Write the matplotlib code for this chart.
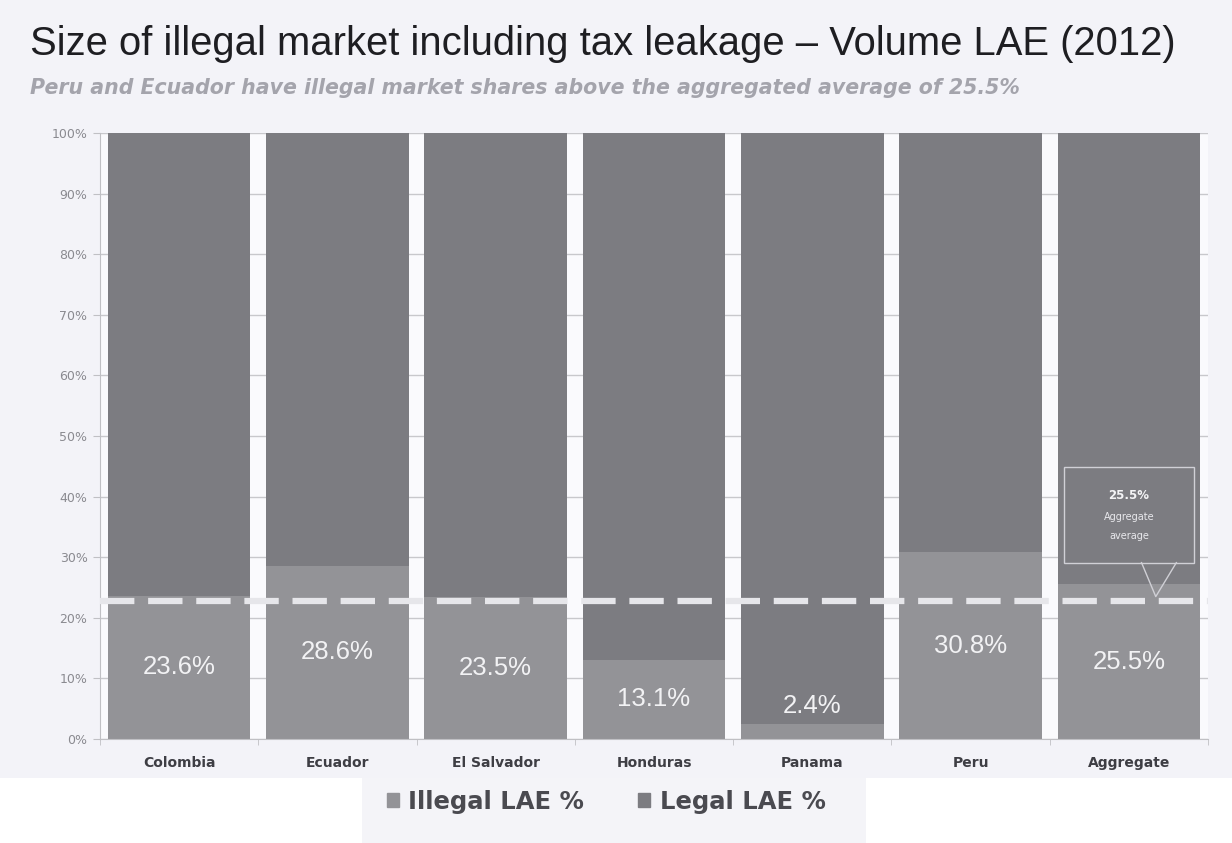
import matplotlib
matplotlib.use("Agg")
import matplotlib.pyplot as plt
from matplotlib.patches import Rectangle
from matplotlib.lines import Line2D
import numpy as np

countries = ["Colombia", "Ecuador", "El Salvador", "Honduras", "Panama", "Peru", "Aggregate"]
illegal = [23.6, 28.6, 23.5, 13.1, 2.4, 30.8, 25.5]
legal = [100 - v for v in illegal]
value_labels = ["23.6%", "28.6%", "23.5%", "13.1%", "2.4%", "30.8%", "25.5%"]
avg_line = 22.8
avg_text = "25.5%"
yticks = list(range(0, 101, 10))
ytick_labels = [f"{t}%" for t in yticks]

BG = "#f3f3f8"
C_ILLEGAL = "#939397"
C_LEGAL = "#7c7c81"

fig = plt.figure(figsize=(12.32, 8.43), dpi=100)
fig.patch.set_facecolor(BG)

# white strip at bottom outside legend area
fig.patches.append(Rectangle((0, 0), 1, 1 - 778 / 843, transform=fig.transFigure,
                             facecolor="white", edgecolor="none", zorder=0))
fig.patches.append(Rectangle((362 / 1232, 0), (866 - 362) / 1232, 1 - 778 / 843,
                             transform=fig.transFigure, facecolor="#f4f4f8",
                             edgecolor="none", zorder=0))

ax = fig.add_axes([100 / 1232, 1 - 739 / 843, (1208 - 100) / 1232, (739 - 133) / 843])
ax.set_facecolor("#fafafd")

x = np.arange(len(countries))
ax.bar(x, illegal, width=0.9, color=C_ILLEGAL, zorder=2, label="Illegal LAE %")
ax.bar(x, legal, width=0.9, bottom=illegal, color=C_LEGAL, zorder=2, label="Legal LAE %")

ax.set_xlim(-0.5, len(countries) - 0.5)
ax.set_ylim(0, 100)
ax.set_yticks(yticks)
ax.set_yticklabels(ytick_labels)
ax.yaxis.grid(True, color="#c8c8cc", linewidth=1, zorder=1)
ax.set_axisbelow(True)

for s in ["top", "right"]:
    ax.spines[s].set_visible(False)
ax.spines["left"].set_color("#c0c0c4")
ax.spines["bottom"].set_color("#c0c0c4")

ax.tick_params(axis="y", length=5, color="#c0c0c4", labelcolor="#8a8a90",
               labelsize=9, pad=4)
for lab in ax.get_yticklabels():
    lab.set_family("DejaVu Sans")
ax.set_xticks(x)
ax.set_xticklabels(countries)
ax.tick_params(axis="x", length=0, pad=12, labelsize=10, labelcolor="#3e3e44")
for lab in ax.get_xticklabels():
    lab.set_fontweight("bold")
    lab.set_family("DejaVu Sans")
ax.set_xticks(np.arange(-0.5, len(countries), 1), minor=True)
ax.tick_params(axis="x", which="minor", length=4, color="#c0c0c4")

# value labels
for i, (v, t) in enumerate(zip(illegal, value_labels)):
    ypos = v / 2 if v > 8 else 5.5
    ax.text(i, ypos, t, ha="center", va="center", color="#f2f2f4",
            fontsize=18.5, family="Liberation Sans", zorder=5)

# dashed average line
ax.axhline(avg_line, color="#e6e6ea", linewidth=4.5, linestyle=(0, (5.5, 2.2)),
           zorder=4)

# callout box
i_agg = len(countries) - 1
box_l, box_r = i_agg - 0.41, i_agg + 0.41
box_b, box_t = 29.1, 44.9
ax.add_patch(Rectangle((box_l, box_b), box_r - box_l, box_t - box_b,
                       facecolor="none", edgecolor="#d0d0d6", linewidth=1, zorder=6))
tip_x = i_agg + 0.17
ax.add_line(Line2D([i_agg + 0.08, tip_x, i_agg + 0.30], [box_b, avg_line + 0.7, box_b],
                   color="#d0d0d6", linewidth=1, zorder=6))
ax.text(i_agg, 40.2, avg_text, ha="center", va="center", color="#f4f4f6",
        fontsize=8.5, fontweight="bold", zorder=7)
ax.text(i_agg, 36.7, "Aggregate", ha="center", va="center", color="#e8e8ec",
        fontsize=7, zorder=7)
ax.text(i_agg, 33.5, "average", ha="center", va="center", color="#e8e8ec",
        fontsize=7, zorder=7)

# titles
fig.text(30 / 1232, 1 - 44 / 843, "Size of illegal market including tax leakage \u2013 Volume LAE (2012)",
         ha="left", va="center", fontsize=28.8, family="Liberation Sans", color="#1e1e22")
fig.text(30 / 1232, 1 - 88 / 843,
         "Peru and Ecuador have illegal market shares above the aggregated average of 25.5%",
         ha="left", va="center", fontsize=14.8, family="DejaVu Sans",
         fontweight="bold", fontstyle="italic", color="#a4a4ac")

# legend
handles = [Rectangle((0, 0), 1, 1, color=C_ILLEGAL), Rectangle((0, 0), 1, 1, color=C_LEGAL)]
leg = fig.legend(handles, ["Illegal LAE %", "Legal LAE %"], loc="center",
                 bbox_to_anchor=(606 / 1232, 1 - 802 / 843), ncol=2, frameon=False,
                 prop={"family": "DejaVu Sans", "weight": "bold", "size": 17.5},
                 handlelength=0.5, handleheight=0.5, handletextpad=0.4,
                 columnspacing=2.2, labelcolor="#4a4a50")

fig.savefig("out.png", dpi=100, facecolor=fig.get_facecolor())
